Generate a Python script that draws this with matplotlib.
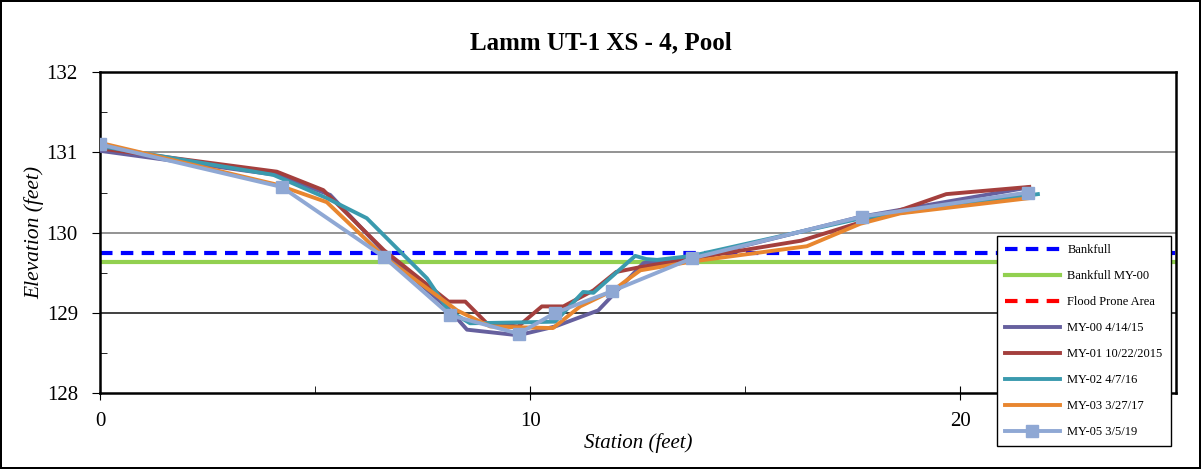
import matplotlib
matplotlib.use('Agg')
import matplotlib.pyplot as plt
from matplotlib.ticker import MultipleLocator

plt.rcParams['font.family'] = ['Liberation Serif', 'DejaVu Serif']

TITLE = 'Lamm UT-1 XS - 4, Pool'
X_LIMITS = (0, 25)
Y_LIMITS = (128, 132)

BANKFULL = 129.75
BANKFULL_MY00 = 129.63

my00_x = [0, 4.1, 5.35, 6.6, 8.1, 8.53, 9.72, 10.58, 11.58, 12.63, 13.8, 17.7, 21.55]
my00_y = [131.02, 130.72, 130.47, 129.76, 129.05, 128.79, 128.72, 128.83, 129.03, 129.62, 129.68, 130.2, 130.56]

my01_x = [0, 4.11, 5.19, 6.6, 8.1, 8.49, 8.99, 9.72, 10.27, 10.77, 11.47, 12.0, 12.56,
          16.3, 18.6, 19.67, 21.6]
my01_y = [131.05, 130.76, 130.53, 129.78, 129.14, 129.14, 128.87, 128.83, 129.08, 129.08, 129.28, 129.51, 129.57,
          129.9, 130.28, 130.48, 130.57]

my02_x = [0, 4.03, 5.27, 6.2, 7.6, 8.1, 8.6, 9.72, 10.58, 11.23, 11.47, 12.44, 12.7, 12.95,
          13.76, 17.7, 21.8]
my02_y = [131.08, 130.72, 130.43, 130.18, 129.43, 129.03, 128.87, 128.88, 128.89, 129.26, 129.25, 129.71, 129.67, 129.66,
          129.71, 130.18, 130.48]

my03_x = [0, 4.1, 5.27, 6.6, 8.3, 9.07, 9.72, 10.53, 11.16, 11.93, 12.25, 12.56, 13.76,
          16.43, 17.67, 18.6, 21.6]
my03_y = [131.12, 130.6, 130.38, 129.7, 129.03, 128.83, 128.82, 128.81, 129.08, 129.28, 129.41, 129.53, 129.64,
          129.83, 130.11, 130.24, 130.43]

my05_x = [0, 4.22, 6.59, 8.14, 9.73, 10.58, 11.9, 13.76, 17.71, 21.56]
my05_y = [131.1, 130.57, 129.7, 128.97, 128.74, 129.0, 129.27, 129.68, 130.2, 130.5]

SURVEYS = [
    ('MY-00 4/14/15', my00_x, my00_y, '#66609e', None),
    ('MY-01 10/22/2015', my01_x, my01_y, '#a43f3d', None),
    ('MY-02 4/7/16', my02_x, my02_y, '#3a9aae', None),
    ('MY-03 3/27/17', my03_x, my03_y, '#e8862f', None),
    ('MY-05 3/5/19', my05_x, my05_y, '#8fa8d4', 's'),
]

fig = plt.figure(figsize=(12.01, 4.69), dpi=100)
fig.patch.set_edgecolor('black')
fig.patch.set_linewidth(1.5)
ax = fig.add_axes([0.0833, 0.162, 0.8955, 0.684])

for yv, gc in ((129, '#202020'), (130, '#808080'), (131, '#808080')):
    ax.axhline(yv, color=gc, lw=1.2, zorder=1)

ax.plot(X_LIMITS, [BANKFULL] * 2, color='#0000ff', lw=3, ls=(0, (3, 2)),
        label='Bankfull', zorder=2)
ax.plot(X_LIMITS, [BANKFULL_MY00] * 2, color='#92d050', lw=3,
        label='Bankfull MY-00', zorder=2)
ax.plot([], [], color='#ff0000', lw=3, ls=(0, (3, 2)), label='Flood Prone Area')

for label, xs, ys, color, marker in SURVEYS:
    ax.plot(xs, ys, color=color, lw=2.8, marker=marker, markersize=9,
            label=label, zorder=3)

ax.set_xlim(*X_LIMITS)
ax.set_ylim(*Y_LIMITS)
ax.xaxis.set_major_locator(MultipleLocator(10))
ax.xaxis.set_minor_locator(MultipleLocator(5))
ax.yaxis.set_major_locator(MultipleLocator(1))
ax.yaxis.set_minor_locator(MultipleLocator(0.5))
ax.tick_params(axis='y', which='major', direction='out', length=6, labelsize=15, pad=10)
ax.tick_params(axis='y', which='minor', direction='in', length=5)
ax.tick_params(axis='x', which='major', direction='inout', length=10, labelsize=15, pad=9)
ax.tick_params(axis='x', which='minor', direction='in', length=5)
for sp in ax.spines.values():
    sp.set_linewidth(1.8)

ax.set_xlabel('Station (feet)', fontsize=15, style='italic', labelpad=1)
ax.set_ylabel('Elevation (feet)', fontsize=15.5, style='italic', labelpad=2)
fig.text(0.5, 1 - 43 / 469, TITLE, ha='center', va='center',
         fontsize=18, fontweight='bold')

leg = ax.legend(loc='upper left', bbox_to_anchor=(0.830, 0.4968),
                bbox_transform=fig.transFigure, borderaxespad=0,
                fontsize=9, frameon=True,
                fancybox=False, edgecolor='black', framealpha=1,
                handlelength=4.4, labelspacing=1.12, borderpad=0.65,
                handletextpad=0.6)
leg.get_frame().set_linewidth(1)
leg.set_zorder(5)

fig.savefig('out.png', dpi=100)
